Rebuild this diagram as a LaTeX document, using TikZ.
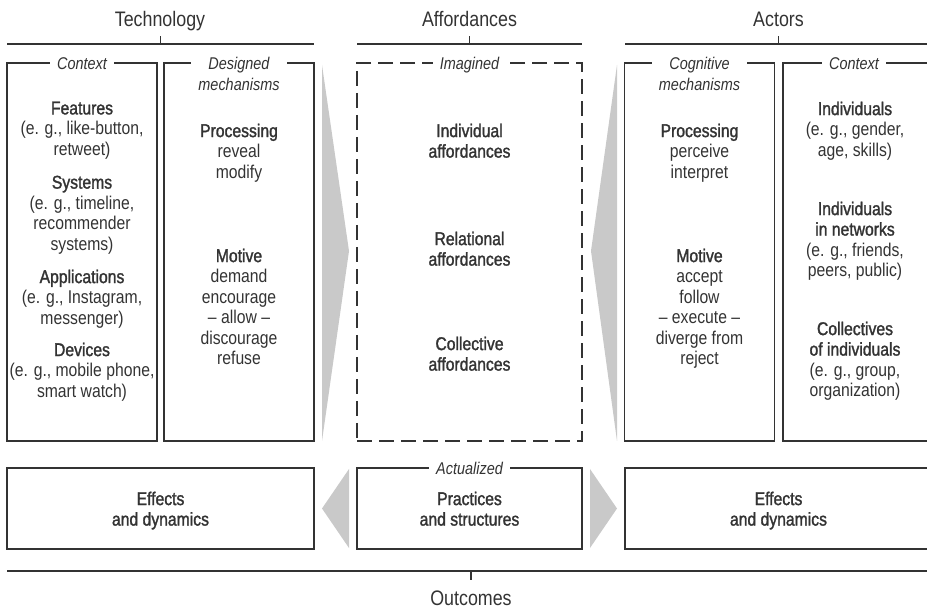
\documentclass[tikz,border=0pt]{standalone}
\usepackage{fontspec}
\setmainfont{Liberation Sans}[FakeStretch=0.85]
\newfontfamily\medfont{Liberation Sans}[FakeStretch=0.85,FakeBold=1.5]
\newcommand\HeadTxt[1]{{\medfont #1}}
\definecolor{ink}{HTML}{333333}
\definecolor{shade}{HTML}{C9C9C9}
\tikzset{
  box/.style={draw=ink, line width=1.2pt, rectangle, inner sep=0pt},
  dbox/.style={box, dash pattern=on 15pt off 7pt},
  lab/.style={fill=white, inner xsep=7pt, inner ysep=0pt, anchor=north, align=center,
    font=\fontsize{17}{21}\selectfont\itshape, text=ink},
  txt/.style={anchor=north, align=center, inner sep=0pt, text=ink,
    font=\fontsize{18.5}{20.5}\selectfont},
  hdr/.style={anchor=base, inner sep=0pt, text=ink, font=\fontsize{21}{24}\selectfont},
  rule/.style={draw=ink, line width=1.2pt},
  wedge/.style={fill=shade, draw=none}
}
\begin{document}
\begin{tikzpicture}[x=1pt,y=-1pt]
\useasboundingbox (0,0) rectangle (927,609);
\clip (0,0) rectangle (927,609);

% headers
\node[hdr] (hT) at (160,27) {Technology};
\node[hdr] (hA) at (469.5,27) {Affordances};
\node[hdr] (hC) at (778.5,27) {Actors};
\node[hdr] (hO) at (471,605) {Outcomes};

% brackets
\draw[rule] (7,44) -- (314,44) (160.5,44) -- (160.5,36);
\draw[rule] (357,44) -- (582,44) (469.5,44) -- (469.5,36);
\draw[rule] (625,44) -- (940,44) (778.5,44) -- (778.5,36);
\draw[rule] (7,571) -- (940,571) (471,571) -- (471,580);

% wedges
\fill[wedge] (322,65) -- (349,251) -- (322,441) -- cycle;
\fill[wedge] (617,65) -- (591,251) -- (617,441) -- cycle;
\fill[wedge] (349,469) -- (322,508.5) -- (349,548) -- cycle;
\fill[wedge] (590,469) -- (617,508.5) -- (590,548) -- cycle;

% top boxes
\node[box, minimum width=150, minimum height=378] (ctxL) at (82,252) {};
\node[box, minimum width=150, minimum height=378] (desM) at (239,252) {};
\node[dbox, minimum width=225, minimum height=378] (imag) at (469.5,252) {};
\node[box, minimum width=150, minimum height=378] (cogM) at (699.5,252) {};
\node[box, minimum width=150, minimum height=378] (ctxR) at (858,252) {};

% bottom boxes
\node[box, minimum width=307, minimum height=81] (effL) at (160.5,508.5) {};
\node[box, minimum width=225, minimum height=81] (prac) at (469.5,508.5) {};
\node[box, minimum width=307, minimum height=81] (effR) at (778.5,508.5) {};

% box labels
\node[lab] (lCtxL) at (82,57) {Context};
\node[lab] (lDes) at (239,57) {Designed\\mechanisms};
\node[lab] (lIma) at (469.5,57) {Imagined};
\node[lab] (lCog) at (699.5,57) {Cognitive\\mechanisms};
\node[lab] (lCtxR) at (854,57) {Context};
\node[lab] (lAct) at (469.5,462) {Actualized};

% left context
\node[txt] (f1) at (82,101.5) {\HeadTxt{Features}\\(e. g., like-button,\\retweet)};
\node[txt] (f2) at (82,175.5) {\HeadTxt{Systems}\\(e. g., timeline,\\recommender\\systems)};
\node[txt] (f3) at (82,269.5) {\HeadTxt{Applications}\\(e. g., Instagram,\\messenger)};
\node[txt] (f4) at (82,342.5) {\HeadTxt{Devices}\\(e. g., mobile phone,\\smart watch)};

% designed mechanisms
\node[txt] (d1) at (239,123.5) {\HeadTxt{Processing}\\reveal\\modify};
\node[txt] (d2) at (239,248.5) {\HeadTxt{Motive}\\demand\\encourage\\– allow –\\discourage\\refuse};

% imagined affordances
\node[txt] (a1) at (469.5,123.5) {\HeadTxt{Individual}\\\HeadTxt{affordances}};
\node[txt] (a2) at (469.5,231.5) {\HeadTxt{Relational}\\\HeadTxt{affordances}};
\node[txt] (a3) at (469.5,336.5) {\HeadTxt{Collective}\\\HeadTxt{affordances}};

% cognitive mechanisms
\node[txt] (c1) at (699.5,123.5) {\HeadTxt{Processing}\\perceive\\interpret};
\node[txt] (c2) at (699.5,248.5) {\HeadTxt{Motive}\\accept\\follow\\– execute –\\diverge from\\reject};

% right context
\node[txt] (r1) at (855,101.5) {\HeadTxt{Individuals}\\(e. g., gender,\\age, skills)};
\node[txt] (r2) at (855,201.5) {\HeadTxt{Individuals}\\\HeadTxt{in networks}\\(e. g., friends,\\peers, public)};
\node[txt] (r3) at (855,321.5) {\HeadTxt{Collectives}\\\HeadTxt{of individuals}\\(e. g., group,\\organization)};

% bottom texts
\node[txt] (e1) at (160.5,491.5) {\HeadTxt{Effects}\\\HeadTxt{and dynamics}};
\node[txt] (p1) at (469.5,491.5) {\HeadTxt{Practices}\\\HeadTxt{and structures}};
\node[txt] (e2) at (778.5,491.5) {\HeadTxt{Effects}\\\HeadTxt{and dynamics}};
\end{tikzpicture}
\end{document}
